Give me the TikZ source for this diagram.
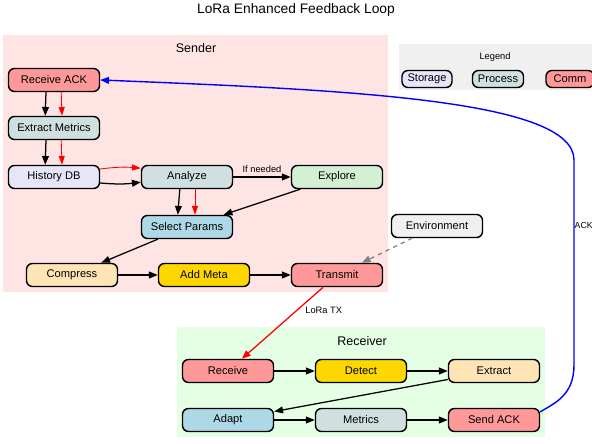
\documentclass[tikz,border=0pt]{standalone}
\usepackage{fontspec}
\setmainfont{Liberation Sans}
\usetikzlibrary{arrows.meta}
\definecolor{senderbg}{RGB}{255,228,228}
\definecolor{receiverbg}{RGB}{229,255,229}
\definecolor{legendbg}{RGB}{240,240,240}
\definecolor{commred}{RGB}{255,153,153}
\definecolor{procgray}{RGB}{208,224,224}
\definecolor{storelav}{RGB}{230,230,250}
\definecolor{exploregreen}{RGB}{212,240,212}
\definecolor{paramblue}{RGB}{173,216,230}
\definecolor{compmoc}{RGB}{255,228,181}
\definecolor{metagold}{RGB}{255,215,0}
\begin{document}
\begin{tikzpicture}[x=0.025cm,y=-0.025cm]
	\tikzstyle{box}=[rectangle,rounded corners=0.15cm,draw=black,line width=1pt,minimum width=2.275cm,minimum height=0.575cm,inner sep=1pt,font=\fontsize{7.9}{9}\selectfont]
	\tikzstyle{legbox}=[box,minimum width=1.25cm,minimum height=0.425cm]
	\tikzstyle{edge}=[draw,line width=0.9pt,-{Triangle[length=2.2mm,width=1.7mm]}]
	\tikzstyle{redge}=[draw,red,line width=0.6pt,-{Triangle[length=2.2mm,width=1.5mm]}]
	\tikzstyle{lbl}=[font=\fontsize{6.6}{8}\selectfont,inner sep=1pt,text=black]
	\tikzstyle{clusterlbl}=[font=\fontsize{8.9}{10}\selectfont]
	\useasboundingbox (0,0) rectangle (592,444);
	% clusters
	\fill[senderbg] (3,35) rectangle (388,292);
	\fill[receiverbg] (177,327) rectangle (545,437);
	\fill[legendbg] (399,44) rectangle (594,90);
	\node [font=\fontsize{9.8}{11}\selectfont] (title) at (296,10) {LoRa Enhanced Feedback Loop};
	\node [clusterlbl] (sendlbl) at (196,48) {Sender};
	\node [clusterlbl] (recvlbl) at (362,341) {Receiver};
	\node [lbl] (leglbl) at (495,57) {Legend};
	% legend
	\node [legbox,fill=storelav] (lstore) at (427,79) {Storage};
	\node [legbox,fill=procgray,minimum width=1.275cm] (lproc) at (498,79) {Process};
	\node [legbox,fill=commred,minimum width=1.2cm] (lcomm) at (570,79) {Comm};
	% sender
	\node [box,fill=commred] (rack) at (54,80) {Receive ACK};
	\node [box,fill=procgray] (xmet) at (54,128) {Extract Metrics};
	\node [box,fill=storelav] (hdb) at (54,177) {History DB};
	\node [box,fill=procgray] (anlz) at (187,177) {Analyze};
	\node [box,fill=exploregreen] (expl) at (337,177) {Explore};
	\node [box,fill=paramblue] (sel) at (187,227) {Select Params};
	\node [box,fill=compmoc] (comp) at (72,275) {Compress};
	\node [box,fill=metagold] (meta) at (204,275) {Add Meta};
	\node [box,fill=commred] (tx) at (337,275) {Transmit};
	\node [box,fill=legendbg] (env) at (437,226) {Environment};
	% receiver
	\node [box,fill=commred] (rcv) at (228,371) {Receive};
	\node [box,fill=metagold] (det) at (361,371) {Detect};
	\node [box,fill=compmoc] (xtr) at (494,371) {Extract};
	\node [box,fill=paramblue] (adp) at (228,420) {Adapt};
	\node [box,fill=procgray] (met) at (361,420) {Metrics};
	\node [box,fill=commred] (sack) at (494,420) {Send ACK};
	% edges
	\draw[edge] ([xshift=-0.2cm]rack.south) -- ([xshift=-0.22cm]xmet.north);
	\draw[redge] ([xshift=0.18cm]rack.south) -- ([xshift=0.2cm]xmet.north);
	\draw[edge] ([xshift=-0.2cm]xmet.south) -- ([xshift=-0.22cm]hdb.north);
	\draw[redge] ([xshift=0.18cm]xmet.south) -- ([xshift=0.2cm]hdb.north);
	\draw[redge] ([yshift=0.2cm]hdb.east) to[bend left=6] ([yshift=0.22cm]anlz.west);
	\draw[edge] ([yshift=-0.15cm]hdb.east) to[bend right=6] ([yshift=-0.13cm]anlz.west);
	\path[edge] (anlz) edge node[lbl,above,yshift=2pt] {If needed} (expl);
	\draw[edge] ([xshift=-0.18cm]anlz.south) -- ([xshift=-0.23cm]sel.north);
	\draw[redge] ([xshift=0.2cm]anlz.south) -- ([xshift=0.2cm]sel.north);
	\path[edge] (expl) edge (sel);
	\path[edge] (sel) edge (comp);
	\path[edge] (comp) edge (meta);
	\path[edge] (meta) edge (tx);
	\draw[gray,dashed,line width=0.9pt,-{Triangle[length=2.2mm,width=1.7mm]}] (env) -- (tx);
	\draw[red,line width=0.9pt,-{Triangle[length=2.2mm,width=1.7mm]}] (tx) -- node[lbl,right,pos=0.33,xshift=5pt] {LoRa TX} (rcv);
	\path[edge] (rcv) edge (det);
	\path[edge] (det) edge (xtr);
	\path[edge] (xtr) edge (adp);
	\path[edge] (adp) edge (met);
	\path[edge] (met) edge (sack);
	\draw[blue,line width=1pt,-{Triangle[length=2.2mm,width=1.7mm]}] (sack.10) .. controls (555,403) and (574,395) .. (574,365) -- node[lbl,right,inner sep=0pt,font=\fontsize{6.2}{8}\selectfont,pos=0.68] {ACK} (574,160) .. controls (574,100) and (350,90) .. (rack.east);
\end{tikzpicture}
\end{document}
